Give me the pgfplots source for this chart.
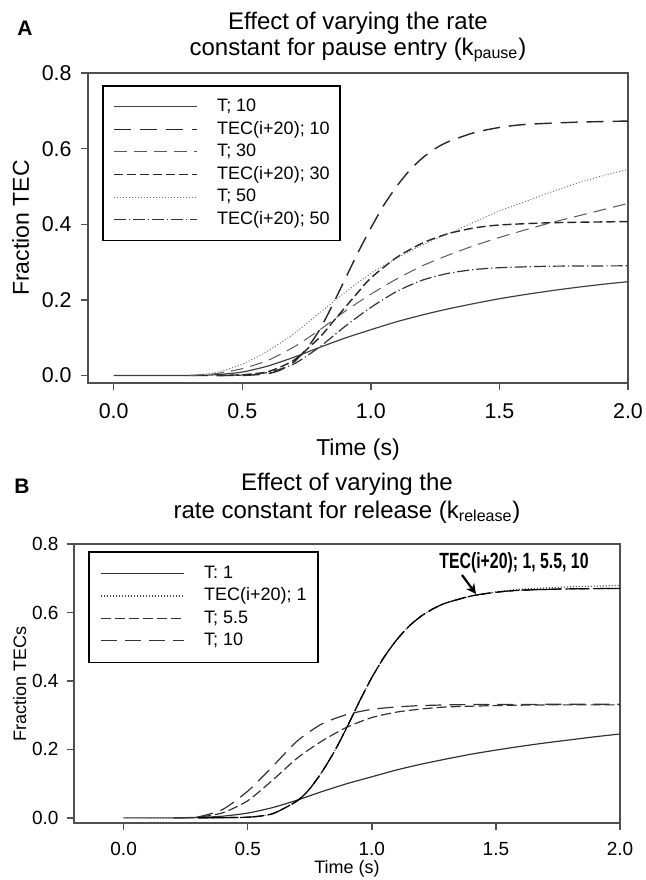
\documentclass[border=0pt]{standalone}
\usepackage{fontspec}
\setmainfont{Liberation Sans}
\usepackage{pgfplots}
\pgfplotsset{compat=1.18}
\usetikzlibrary{arrows.meta}

\definecolor{axgray}{RGB}{80,80,80}
\definecolor{lgray}{RGB}{90,90,90}

\tikzset{
  ldash/.style={dash pattern=on 8.5pt off 4.5pt},
  mdash/.style={dash pattern=on 6.5pt off 3.5pt},
  sdash/.style={dash pattern=on 4.5pt off 2pt},
  dotl/.style={dash pattern=on 0.5pt off 1pt},
  dashdot/.style={dash pattern=on 6pt off 1.5pt on 0.6pt off 1.5pt},
}

\pgfplotsset{
  panel/.style={
    scale only axis,
    axis line style={axgray, line width=0.7pt},
    tick style={axgray, line width=0.7pt},
    tick align=outside,
    major tick length=3.5pt,
    xtick pos=bottom, ytick pos=left,
    xtick={0,0.5,1,1.5,2},
    ytick={0,0.2,0.4,0.6,0.8},
    xmax=2, ymax=0.8,
    /pgf/number format/assume math mode=true,
    xticklabel style={/pgf/number format/.cd, fixed, fixed zerofill, precision=1, /tikz/.cd, anchor=base},
    yticklabel style={/pgf/number format/.cd, fixed, fixed zerofill, precision=1, /tikz/.cd},
    legend cell align=left,
    legend image code/.code={\draw[##1] (0pt,0pt) -- (41.5pt,0pt);},
    every axis plot/.append style={smooth, tension=0.4},
  },
}

\begin{document}
\begin{tikzpicture}
\useasboundingbox (0,0) rectangle (322.5pt,-440pt);

% ---------------- panel A ----------------
\begin{axis}[panel,
  at={(44pt,-191.5pt)}, anchor=south west,
  width=270pt, height=155pt,
  xmin=-0.1, ymin=-0.02,
  ticklabel style={font=\fontsize{10.7}{12}\selectfont},
  xticklabel style={yshift=-14pt},
  yticklabel style={xshift=-1.2pt},
  xlabel={Time (s)},
  ylabel={Fraction TEC},
  xlabel style={font=\fontsize{11.5}{13}\selectfont, at={([yshift=-36pt]axis description cs:0.5,0)}, anchor=base},
  ylabel style={font=\fontsize{11.5}{13}\selectfont, at={([xshift=-29.5pt]axis description cs:0,0.5)}, anchor=base},
  legend style={at={(0.026,0.961)}, anchor=north west, draw=black, line width=0.8pt,
    font=\fontsize{9}{10}\selectfont, inner xsep=5pt, inner ysep=6pt,
    row sep=2.5pt, column sep=10pt,
    nodes={inner sep=0pt, text height=6.8pt, text depth=2pt}},
]
\addplot[black!75, line width=0.6pt] coordinates {
  (0,0) (0.3,0) (0.4,0.002) (0.5,0.009) (0.6,0.025) (0.7,0.048) (0.8,0.074)
  (0.9,0.099) (1.0,0.121) (1.1,0.142) (1.2,0.16) (1.3,0.176) (1.4,0.19)
  (1.5,0.203) (1.6,0.214) (1.7,0.224) (1.8,0.233) (1.9,0.241) (2.0,0.248)};
\addlegendentry{T; 10}
\addplot[black!85, line width=0.7pt, ldash] coordinates {
  (0.3,0) (0.5,0) (0.6,0.005) (0.65,0.015) (0.7,0.035) (0.75,0.07) (0.8,0.12)
  (0.85,0.185) (0.9,0.255) (0.95,0.325) (1.0,0.39) (1.05,0.45) (1.1,0.5)
  (1.15,0.542) (1.2,0.575) (1.25,0.6) (1.3,0.618) (1.4,0.642) (1.5,0.656)
  (1.6,0.664) (1.8,0.67) (2.0,0.673)};
\addlegendentry{TEC(i+20); 10}
\addplot[lgray, line width=0.5pt, mdash] coordinates {
  (0.3,0) (0.4,0.005) (0.5,0.018) (0.6,0.04) (0.7,0.075) (0.8,0.12) (0.9,0.17)
  (1.0,0.215) (1.1,0.255) (1.2,0.29) (1.3,0.318) (1.4,0.343) (1.5,0.365)
  (1.6,0.385) (1.7,0.404) (1.8,0.421) (1.9,0.438) (2.0,0.455)};
\addlegendentry{T; 30}
\addplot[black!85, line width=0.7pt, sdash] coordinates {
  (0.4,0) (0.5,0.002) (0.6,0.01) (0.7,0.04) (0.8,0.1) (0.85,0.14) (0.9,0.18)
  (0.95,0.22) (1.0,0.258) (1.1,0.312) (1.2,0.35) (1.3,0.375) (1.4,0.39)
  (1.5,0.398) (1.7,0.404) (2.0,0.407)};
\addlegendentry{TEC(i+20); 30}
\addplot[black!55, line width=0.5pt, dotl] coordinates {
  (0.3,0) (0.4,0.008) (0.5,0.03) (0.6,0.065) (0.7,0.11) (0.8,0.165) (0.9,0.22)
  (1.0,0.27) (1.1,0.31) (1.2,0.345) (1.3,0.375) (1.4,0.405) (1.5,0.435)
  (1.6,0.46) (1.7,0.485) (1.8,0.508) (1.9,0.528) (2.0,0.545)};
\addlegendentry{T; 50}
\addplot[black!80, line width=0.6pt, dashdot] coordinates {
  (0.4,0) (0.5,0.001) (0.6,0.008) (0.7,0.03) (0.8,0.075) (0.9,0.13) (1.0,0.18)
  (1.1,0.222) (1.2,0.252) (1.3,0.27) (1.4,0.28) (1.5,0.285) (1.7,0.289)
  (2.0,0.29)};
\addlegendentry{TEC(i+20); 50}
\end{axis}

% ---------------- panel B ----------------
\begin{axis}[panel,
  at={(37pt,-411.5pt)}, anchor=south west,
  width=273pt, height=139.5pt,
  xmin=-0.2, ymin=-0.015,
  ticklabel style={font=\fontsize{9.5}{11}\selectfont},
  xticklabel style={yshift=-12.5pt},
  yticklabel style={xshift=-0.7pt},
  xlabel={Time (s)},
  ylabel={Fraction TECs},
  xlabel style={font=\fontsize{9}{11}\selectfont, at={([yshift=-25pt]axis description cs:0.5,0)}, anchor=base},
  ylabel style={font=\fontsize{9}{11}\selectfont, at={([xshift=-24pt]axis description cs:0,0.5)}, anchor=base},
  legend style={at={(0.026,0.975)}, anchor=north west, draw=black, line width=0.8pt,
    font=\fontsize{9}{10}\selectfont, inner xsep=5.5pt, inner ysep=6.5pt,
    row sep=2.4pt, column sep=10pt,
    nodes={inner sep=0pt, text height=6.8pt, text depth=2pt}},
]
\addplot[black!80, line width=0.6pt] coordinates {
  (0,0) (0.2,0) (0.3,0.001) (0.4,0.005) (0.5,0.014) (0.6,0.03) (0.7,0.052)
  (0.8,0.077) (0.9,0.1) (1.0,0.12) (1.1,0.14) (1.2,0.157) (1.3,0.172)
  (1.4,0.186) (1.5,0.198) (1.6,0.209) (1.7,0.219) (1.8,0.228) (1.9,0.237)
  (2.0,0.245)};
\addlegendentry{T: 1}
\addplot[black!70, line width=0.6pt, dotl] coordinates {
  (0,0) (0.3,0) (0.5,0.002) (0.6,0.012) (0.7,0.05) (0.75,0.085) (0.8,0.135)
  (0.85,0.195) (0.9,0.265) (0.95,0.34) (1.0,0.41) (1.05,0.47) (1.1,0.52)
  (1.15,0.56) (1.2,0.59) (1.25,0.612) (1.3,0.628) (1.4,0.648) (1.5,0.66)
  (1.6,0.668) (1.8,0.675) (2.0,0.679)};
\addlegendentry{TEC(i+20); 1}
\addplot[black!80, line width=0.6pt, dash pattern=on 5pt off 2pt] coordinates {
  (0.2,0) (0.3,0.002) (0.4,0.015) (0.5,0.05) (0.6,0.11) (0.7,0.175) (0.8,0.225)
  (0.9,0.265) (1.0,0.293) (1.1,0.309) (1.2,0.318) (1.3,0.324) (1.5,0.328)
  (1.7,0.33) (2.0,0.33)};
\addlegendentry{T; 5.5}
\addplot[black!80, line width=0.6pt, dash pattern=on 8pt off 4pt] coordinates {
  (0.2,0) (0.3,0.003) (0.4,0.025) (0.5,0.078) (0.6,0.15) (0.7,0.225) (0.8,0.275)
  (0.9,0.302) (1.0,0.317) (1.1,0.324) (1.2,0.328) (1.4,0.331) (2.0,0.332)};
\addlegendentry{T; 10}
% TEC(i+20) for 5.5 and 10 overlap the k=1 curve
\addplot[forget plot, black, line width=0.6pt, dash pattern=on 5pt off 2pt] coordinates {
  (0.3,0) (0.5,0.002) (0.6,0.012) (0.7,0.05) (0.75,0.085) (0.8,0.135)
  (0.85,0.195) (0.9,0.265) (0.95,0.34) (1.0,0.41) (1.05,0.47) (1.1,0.52)
  (1.15,0.56) (1.2,0.59) (1.25,0.612) (1.3,0.628) (1.4,0.648) (1.5,0.659)
  (1.6,0.665) (1.8,0.669) (2.0,0.67)};
\addplot[forget plot, black, line width=0.6pt, dash pattern=on 8pt off 4pt] coordinates {
  (0.3,0) (0.5,0.002) (0.6,0.012) (0.7,0.05) (0.75,0.085) (0.8,0.135)
  (0.85,0.195) (0.9,0.265) (0.95,0.34) (1.0,0.41) (1.05,0.47) (1.1,0.52)
  (1.15,0.56) (1.2,0.59) (1.25,0.612) (1.3,0.628) (1.4,0.648) (1.5,0.659)
  (1.6,0.665) (1.8,0.669) (2.0,0.67)};
\end{axis}

% titles and panel letters
\node[anchor=base west, inner sep=0pt, font=\fontsize{10.5}{12}\selectfont\bfseries] at (8.5pt,-17.5pt) {A};
\node[anchor=base, font=\fontsize{12}{14}\selectfont] at (179pt,-14.5pt) {Effect of varying the rate};
\node[anchor=base, font=\fontsize{12}{14}\selectfont] at (179pt,-27.5pt) {constant for pause entry (k\textsubscript{pause})};

\node[anchor=base west, inner sep=0pt, font=\fontsize{10.5}{12}\selectfont\bfseries] at (7pt,-246.5pt) {B};
\node[anchor=base, font=\fontsize{12}{14}\selectfont] at (173.5pt,-245pt) {Effect of varying the};
\node[anchor=base, font=\fontsize{12}{14}\selectfont] at (173.5pt,-259pt) {rate constant for release (k\textsubscript{release})};

% annotation in panel B
\node[font=\fontsize{11}{12}\selectfont\bfseries] at (257pt,-281.5pt) {\scalebox{0.72}[1]{TEC(i+20); 1, 5.5, 10}};
\draw[-{Stealth[length=5pt,width=5pt]}, line width=1.1pt] (231pt,-287.5pt) -- (238pt,-297pt);
\end{tikzpicture}
\end{document}
